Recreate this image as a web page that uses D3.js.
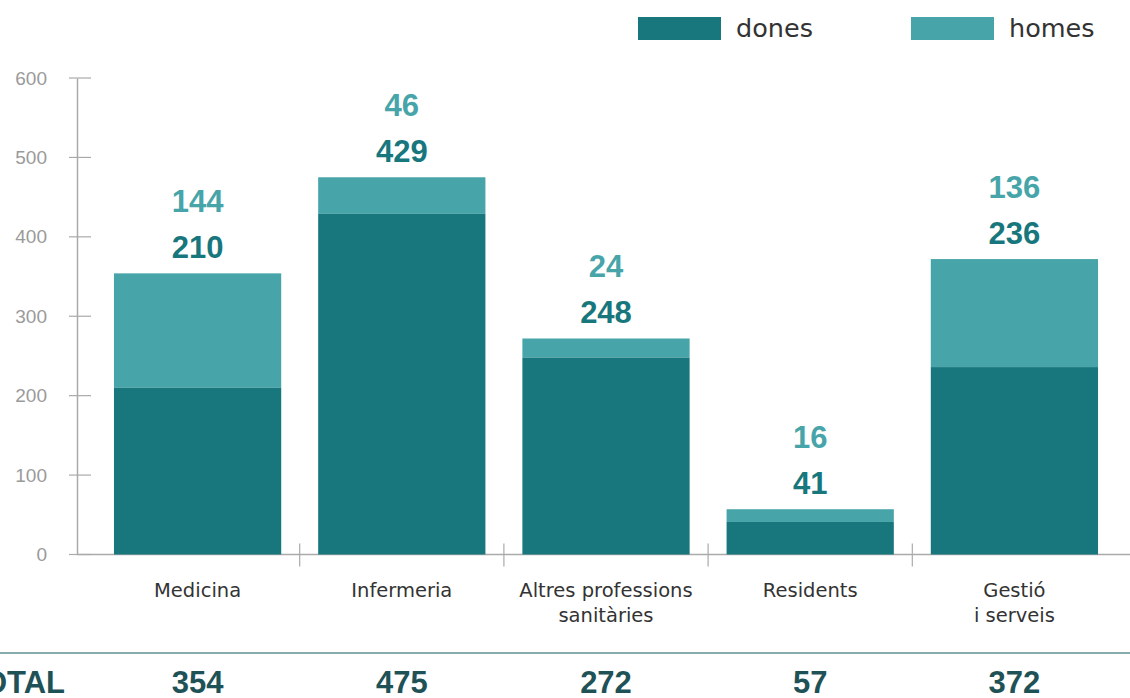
<!DOCTYPE html>
<html><head><meta charset="utf-8">
<script src="https://cdn.jsdelivr.net/npm/d3@7"></script>
<style>body{margin:0;background:#fff}svg{display:block}</style>
</head><body>
<svg id="c" width="1130" height="698"></svg>
<script>
const categories = [["Medicina"],["Infermeria"],["Altres professions","sanitàries"],["Residents"],["Gestió","i serveis"]];
const dones = [210, 429, 248, 41, 236];
const homes = [144, 46, 24, 16, 136];
const totals = [354, 475, 272, 57, 372];
const yTicks = [0,100,200,300,400,500,600];
const seriesNames = ["dones","homes"];

const colDones = "#17777d", colHomes = "#47a5aa";
const svg = d3.select("#c");
const keys = categories.map(c => c.join(" "));
const x = d3.scaleBand().domain(keys).range([96,1116]).paddingInner(0.181).paddingOuter(0.088);
const y = d3.scaleLinear().domain([0,600]).range([554.5,78]);

// y axis
const ya = svg.append("g").attr("transform","translate(77,0)")
  .call(d3.axisLeft(y).tickValues(yTicks).tickSize(0).tickPadding(30));
ya.select(".domain").attr("stroke","#aaa").attr("stroke-width",1.5);
ya.selectAll("text").attr("fill","#9a9a9a").style("font-family","Liberation Sans, Arial, sans-serif").style("font-size","19px");
svg.append("g").selectAll("line").data(yTicks).join("line")
  .attr("x1",69).attr("x2",91).attr("y1",d=>y(d)).attr("y2",d=>y(d))
  .attr("stroke","#aaa").attr("stroke-width",1.2);

// x axis
const xa = svg.append("g").attr("transform",`translate(0,${y(0)})`)
  .call(d3.axisBottom(x).tickSize(0).tickFormat(""));
xa.select(".domain").remove();
svg.append("line").attr("x1",77).attr("x2",1130).attr("y1",y(0)).attr("y2",y(0)).attr("stroke","#aaa").attr("stroke-width",1.5);
const seps = keys.slice(1).map(k => x(k) - x.step()*x.paddingInner()/2);
svg.append("g").selectAll("line").data(seps).join("line")
  .attr("x1",d=>d).attr("x2",d=>d).attr("y1",y(0)-11).attr("y2",y(0)+12)
  .attr("stroke","#aaa").attr("stroke-width",1.2);

// bars
const stack = keys.map((k,i)=>({k, d:dones[i], h:homes[i], t:totals[i], lines:categories[i]}));
const g = svg.append("g");
g.selectAll("rect.h").data(stack).join("rect").attr("class","h")
  .attr("x",d=>x(d.k)).attr("width",x.bandwidth())
  .attr("y",d=>y(d.d+d.h)).attr("height",d=>y(d.d)-y(d.d+d.h)).attr("fill",colHomes);
g.selectAll("rect.d").data(stack).join("rect").attr("class","d")
  .attr("x",d=>x(d.k)).attr("width",x.bandwidth())
  .attr("y",d=>y(d.d)).attr("height",d=>y(0)-y(d.d)).attr("fill",colDones);

// value labels
const bold = "Liberation Sans, Arial, sans-serif";
g.selectAll("text.vd").data(stack).join("text").attr("class","vd")
  .attr("x",d=>x(d.k)+x.bandwidth()/2).attr("y",d=>y(d.d+d.h)-15)
  .attr("text-anchor","middle").attr("fill",colDones)
  .style("font-family",bold).style("font-weight","bold").style("font-size","31px").text(d=>d.d);
g.selectAll("text.vh").data(stack).join("text").attr("class","vh")
  .attr("x",d=>x(d.k)+x.bandwidth()/2).attr("y",d=>y(d.d+d.h)-61)
  .attr("text-anchor","middle").attr("fill",colHomes)
  .style("font-family",bold).style("font-weight","bold").style("font-size","31px").text(d=>d.h);

// category labels
const cl = svg.append("g").selectAll("text").data(stack).join("text")
  .attr("x",d=>x(d.k)+x.bandwidth()/2).attr("y",597)
  .attr("text-anchor","middle").attr("fill","#333")
  .style("font-family","DejaVu Sans, sans-serif").style("font-size","19.5px");
cl.selectAll("tspan").data(d=>d.lines.map(l=>({l, cx:x(d.k)+x.bandwidth()/2}))).join("tspan")
  .attr("x",d=>d.cx).attr("dy",(d,i)=>i?25:0).text(d=>d.l);

// totals row
svg.append("line").attr("x1",0).attr("x2",1130).attr("y1",653).attr("y2",653).attr("stroke","#5f8f94").attr("stroke-width",1.5);
svg.append("text").attr("x",65).attr("y",693).attr("text-anchor","end").attr("fill","#1f5257")
  .style("font-family",bold).style("font-weight","bold").style("font-size","31px").text("TOTAL");
svg.append("g").selectAll("text").data(stack).join("text")
  .attr("x",d=>x(d.k)+x.bandwidth()/2).attr("y",693).attr("text-anchor","middle").attr("fill","#1f5257")
  .style("font-family",bold).style("font-weight","bold").style("font-size","31px").text(d=>d.t);

// legend
const lg = svg.append("g");
const lx = [638, 911];
seriesNames.forEach((s,i)=>{
  lg.append("rect").attr("x",lx[i]).attr("y",17).attr("width",83).attr("height",23).attr("fill",i?colHomes:colDones);
  lg.append("text").attr("x",lx[i]+98).attr("y",37).attr("fill","#333")
    .style("font-family","DejaVu Sans, sans-serif").style("font-size","25.5px").text(s);
});
</script>
</body></html>
